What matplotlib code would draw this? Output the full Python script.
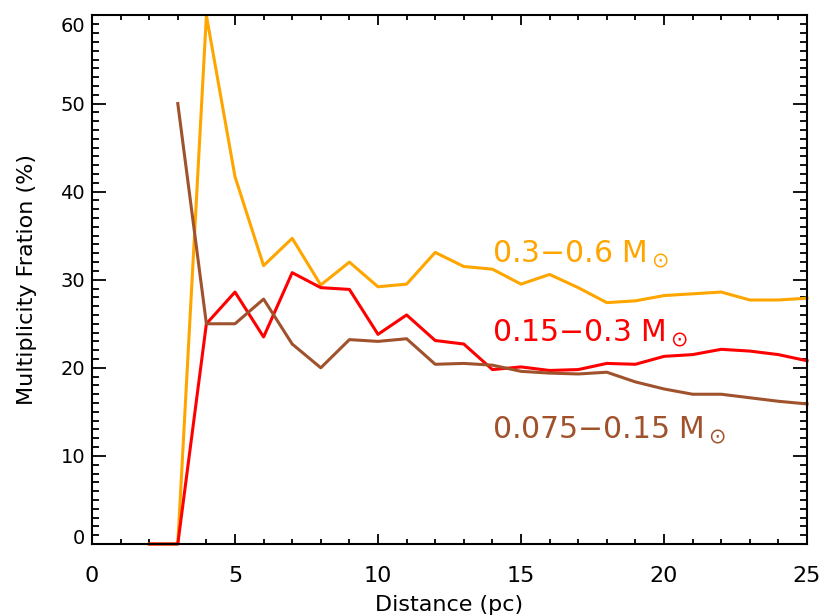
import numpy as np
import matplotlib
matplotlib.use("Agg")
import matplotlib.pyplot as plt
import matplotlib.transforms as mtransforms
from matplotlib.ticker import MultipleLocator

plt.rcParams['font.family'] = 'DejaVu Sans'
plt.rcParams['mathtext.fontset'] = 'dejavusans'

# multiplicity fraction (%) vs. distance limit (pc) for three mass bins
dist_hi = np.arange(2, 26)
frac_hi = [0, 0, 60.0, 41.7, 31.6, 34.7, 29.4, 32.0, 29.2, 29.5, 33.1, 31.5,
           31.2, 29.5, 30.6, 29.1, 27.4, 27.6, 28.2, 28.4, 28.6, 27.7, 27.7, 27.9]

dist_mid = np.arange(2, 26)
frac_mid = [0, 0, 25.0, 28.6, 23.5, 30.8, 29.1, 28.9, 23.8, 26.0, 23.1, 22.7,
            19.8, 20.1, 19.7, 19.8, 20.5, 20.4, 21.3, 21.5, 22.1, 21.9, 21.5, 20.8]

dist_lo = np.arange(3, 26)
frac_lo = [50.0, 25.0, 25.0, 27.8, 22.7, 20.0, 23.2, 23.0, 23.3, 20.4, 20.5,
           20.3, 19.6, 19.4, 19.3, 19.5, 18.4, 17.6, 17.0, 17.0, 16.6, 16.2, 15.9]

labels = [r'0.3$-$0.6 M$_\odot$', r'0.15$-$0.3 M$_\odot$', r'0.075$-$0.15 M$_\odot$']
colors = ['#FFA500', '#FF0000', '#A0522D']
label_y = [32, 23, 12]

fig = plt.figure(figsize=(8.25, 6.16), dpi=100)
ax = fig.add_axes([0.1115, 0.1169, 0.8667, 0.858])

for d, f, c in [(dist_hi, frac_hi, colors[0]), (dist_mid, frac_mid, colors[1]),
                (dist_lo, frac_lo, colors[2])]:
    ax.plot(d, f, color=c, lw=2.2, clip_on=False)

for lab, c, yy in zip(labels, colors, label_y):
    ax.text(14, yy, lab, color=c, fontsize=21.5, va='baseline', ha='left')

ax.set_xlim(0, 25)
ax.set_ylim(0, 60)
ax.xaxis.set_major_locator(MultipleLocator(5))
ax.xaxis.set_minor_locator(MultipleLocator(1))
ax.yaxis.set_major_locator(MultipleLocator(10))
ax.yaxis.set_minor_locator(MultipleLocator(1))
ax.tick_params(which='both', direction='in', top=True, right=True, width=1.3,
               colors='black')
ax.tick_params(axis='x', which='major', length=7.5, pad=16, labelsize=16)
ax.tick_params(axis='x', which='minor', length=3.6)
ax.tick_params(axis='y', which='major', length=10, pad=5, labelsize=14)
ax.tick_params(axis='y', which='minor', length=5)
for sp in ax.spines.values():
    sp.set_linewidth(1.5)

ax.set_xlabel('Distance (pc)', fontsize=16, labelpad=6)
ax.set_ylabel('Multiplicity Fration (%)', fontsize=16, labelpad=17)

# pull the end labels of the y axis inside the frame
fig.canvas.draw()
for t in ax.get_yticklabels():
    if t.get_text() == '60':
        t.set_transform(t.get_transform() + mtransforms.ScaledTranslation(0, -0.09, fig.dpi_scale_trans))
    elif t.get_text() == '0':
        t.set_transform(t.get_transform() + mtransforms.ScaledTranslation(0, 0.07, fig.dpi_scale_trans))

fig.savefig('out.png', dpi=100)
